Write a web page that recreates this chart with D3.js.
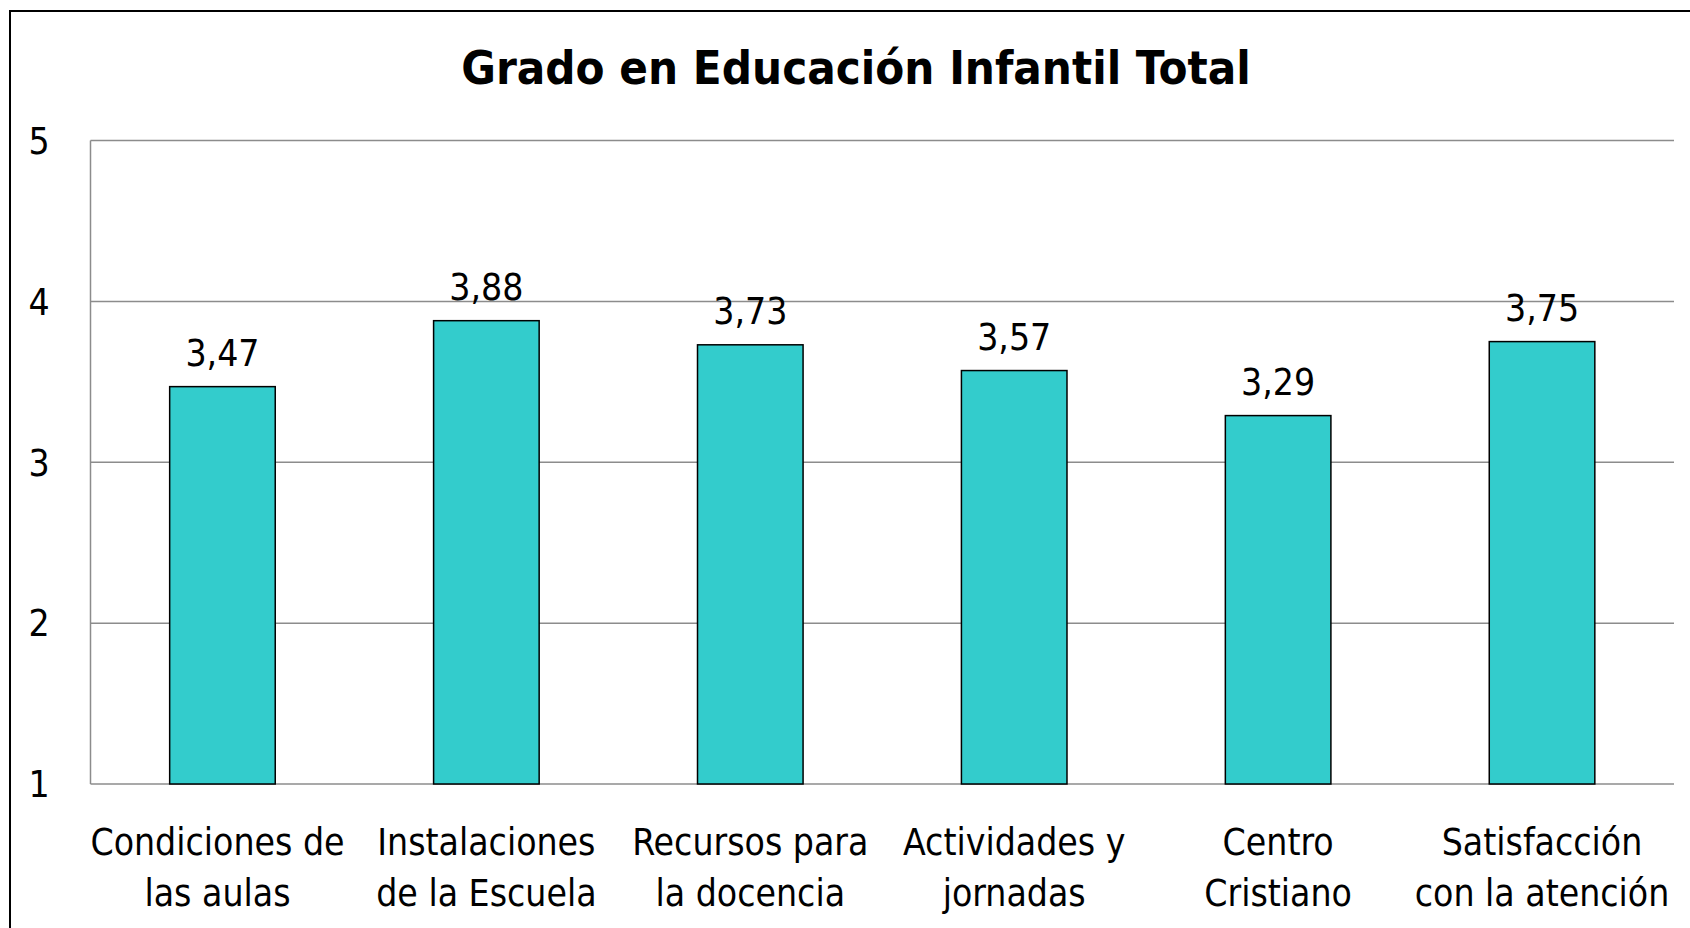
<!DOCTYPE html>
<html>
<head>
<meta charset="utf-8">
<script src="https://cdn.jsdelivr.net/npm/d3@7"></script>
<style>
html,body{margin:0;padding:0;background:#fff;}
svg{display:block;}
text{font-family:"Comic Sans MS","DejaVu Sans Condensed","DejaVu Sans",sans-serif;fill:#000;}
</style>
</head>
<body>
<svg id="chart" width="1690" height="928"></svg>
<script>
const title = "Grado en Educación Infantil Total";
const categories = [
  ["Condiciones de", "las aulas"],
  ["Instalaciones", "de la Escuela"],
  ["Recursos para", "la docencia"],
  ["Actividades y", "jornadas"],
  ["Centro", "Cristiano"],
  ["Satisfacción", "con la atención"]
];
const values = [3.47, 3.88, 3.73, 3.57, 3.29, 3.75];
const yTicks = [1, 2, 3, 4, 5];

const svg = d3.select("#chart");
const W = 1690, H = 928;
const m = {left: 90.5, right: 16, top: 140.5, bottom: 144};

// outer chart border (only left/top visible, rest cropped)
svg.append("rect")
  .attr("x", 10).attr("y", 11)
  .attr("width", 1700).attr("height", 1000)
  .attr("fill", "none").attr("stroke", "#000").attr("stroke-width", 2);

const x = d3.scaleBand()
  .domain(d3.range(categories.length))
  .range([m.left, W - m.right])
  .paddingInner(0.6).paddingOuter(0.3);

const y = d3.scaleLinear().domain([1, 5]).range([H - m.bottom, m.top]);

// gridlines
svg.append("g").selectAll("line").data(yTicks).join("line")
  .attr("x1", m.left).attr("x2", W - m.right)
  .attr("y1", d => y(d)).attr("y2", d => y(d))
  .attr("stroke", "#8c8c8c").attr("stroke-width", 1.5);

// left axis line
svg.append("line")
  .attr("x1", m.left).attr("x2", m.left)
  .attr("y1", y(5)).attr("y2", y(1))
  .attr("stroke", "#8c8c8c").attr("stroke-width", 1.5);

// y tick labels
svg.append("g").selectAll("text").data(yTicks).join("text")
  .attr("x", 39).attr("y", d => y(d))
  .attr("dy", "0.36em")
  .attr("text-anchor", "middle")
  .style("font-size", "37px")
  .text(d => d);

// bars
svg.append("g").selectAll("rect").data(values).join("rect")
  .attr("x", (d, i) => x(i))
  .attr("width", x.bandwidth())
  .attr("y", d => y(d))
  .attr("height", d => y(1) - y(d))
  .attr("fill", "#33CCCC")
  .attr("stroke", "#000").attr("stroke-width", 1.5);

// value labels
svg.append("g").selectAll("text").data(values).join("text")
  .attr("x", (d, i) => x(i) + x.bandwidth() / 2)
  .attr("y", d => y(d) - 21)
  .attr("text-anchor", "middle")
  .style("font-size", "37px")
  .text(d => d.toFixed(2).replace(".", ","));

// category labels
const cat = svg.append("g").selectAll("text").data(categories).join("text")
  .attr("x", (d, i) => x(i) + x.bandwidth() / 2 - (i === 0 ? 5 : 0))
  .attr("y", 855)
  .attr("text-anchor", "middle")
  .style("font-size", "37px");
cat.selectAll("tspan").data(d => d).join("tspan")
  .attr("x", function() { return this.parentNode.getAttribute("x"); })
  .attr("dy", (d, i) => i === 0 ? 0 : 50.7)
  .text(d => d);

// title
svg.append("text")
  .attr("x", 856).attr("y", 84)
  .attr("text-anchor", "middle")
  .style("font-size", "47px").style("font-weight", "bold")
  .text(title);
</script>
</body>
</html>
